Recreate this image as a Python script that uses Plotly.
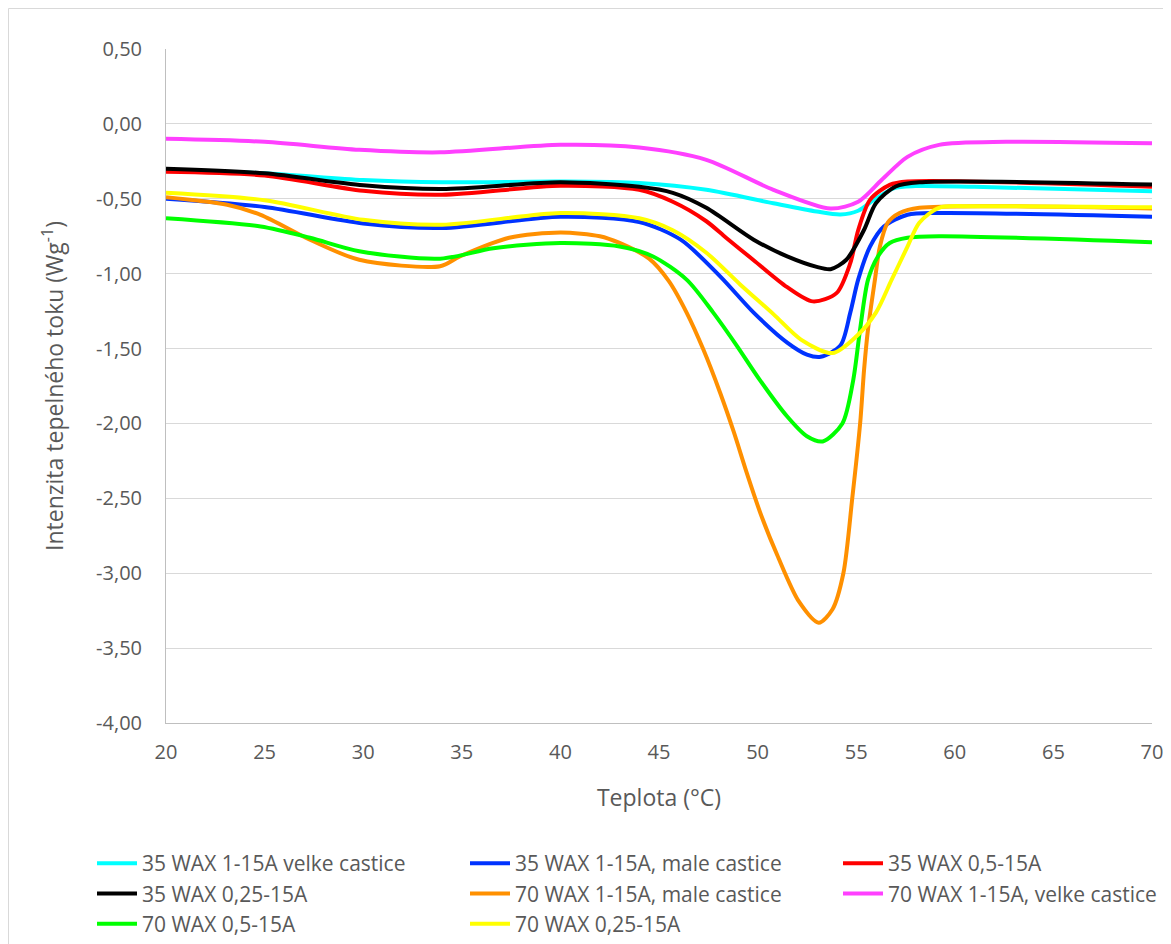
import plotly.graph_objects as go

# ---- data ----
names = [
    "35 WAX 1-15A velke castice",
    "35 WAX 1-15A, male castice",
    "35 WAX 0,5-15A",
    "35 WAX 0,25-15A",
    "70 WAX 1-15A, male castice",
    "70 WAX 1-15A, velke castice",
    "70 WAX 0,5-15A",
    "70 WAX 0,25-15A",
]
colors = ["#00FFFF", "#0033FF", "#FF0000", "#000000",
          "#FF9000", "#FF40FF", "#00FF00", "#FFFF00"]

t_cyan = [20, 25, 30, 34, 40, 44, 47.4, 50.8, 53, 54.2, 55.1, 55.9, 56.9, 58, 61, 70]
v_cyan = [-0.31, -0.33, -0.375, -0.39, -0.385, -0.395, -0.44, -0.53, -0.585, -0.605,
          -0.58, -0.507, -0.43, -0.415, -0.42, -0.45]

t_blue = [20, 25, 30, 34, 40, 44, 46.1, 48.1, 49.8, 51.5, 52.5, 53.2, 54.2, 54.7,
          55.1, 55.7, 56.4, 57.6, 59.2, 70]
v_blue = [-0.50, -0.555, -0.665, -0.695, -0.62, -0.655, -0.773, -1.018, -1.26, -1.46,
          -1.54, -1.555, -1.48, -1.26, -1.04, -0.82, -0.685, -0.607, -0.595, -0.62]

t_red = [20, 25, 30, 34, 40, 44, 45.7, 47.4, 48.4, 49.8, 51.5, 52.8, 54.0, 54.7,
         55.1, 55.7, 56.7, 57.6, 70]
v_red = [-0.32, -0.345, -0.447, -0.473, -0.413, -0.44, -0.52, -0.65, -0.76, -0.91,
         -1.09, -1.185, -1.13, -0.93, -0.71, -0.507, -0.407, -0.385, -0.42]

t_black = [20, 25, 30, 34, 40, 44, 45.7, 47.4, 49.8, 51.5, 53.0, 53.7, 54.5, 55.4,
           56.0, 57.0, 58.2, 70]
v_black = [-0.30, -0.33, -0.41, -0.435, -0.39, -0.42, -0.46, -0.56, -0.773, -0.885,
           -0.955, -0.97, -0.907, -0.707, -0.53, -0.418, -0.39, -0.405]

t_orange = [20, 23.1, 24.8, 27.3, 29.8, 33.9, 34.9, 37.4, 40, 42, 43, 44.5, 45.5,
            46.4, 47.25, 48.1, 48.8, 49.45, 50.2, 51.0, 52.1, 53.1, 53.8, 54.35,
            54.8, 55.2, 55.4, 55.6, 55.95, 56.2, 56.6, 57.2, 58.2, 70]
v_orange = [-0.49, -0.54, -0.607, -0.773, -0.907, -0.95, -0.885, -0.76, -0.725, -0.75,
            -0.795, -0.90, -1.05, -1.26, -1.507, -1.795, -2.06, -2.33, -2.62, -2.88,
            -3.19, -3.33, -3.24, -3.0, -2.5, -2.0, -1.64, -1.37, -1.04, -0.82,
            -0.66, -0.595, -0.56, -0.565]

t_magenta = [20, 25, 29.8, 33.9, 40, 44, 47.4, 50.8, 53.7, 55.1, 56.3, 57.6, 59.2,
             62.6, 70]
v_magenta = [-0.10, -0.12, -0.173, -0.19, -0.14, -0.158, -0.24, -0.44, -0.565, -0.52,
             -0.373, -0.22, -0.14, -0.12, -0.13]

t_green = [20, 24.8, 27.3, 29.8, 33.9, 36.6, 40, 43, 44.7, 46.4, 47.75, 48.94, 50.1,
           51.48, 52.5, 53.3, 54.3, 54.85, 55.2, 55.6, 56.1, 56.7, 57.6, 59.2, 70]
v_green = [-0.63, -0.685, -0.76, -0.85, -0.90, -0.83, -0.795, -0.818, -0.885, -1.04,
           -1.26, -1.48, -1.707, -1.95, -2.085, -2.12, -2.0, -1.71, -1.37, -1.04,
           -0.885, -0.795, -0.76, -0.75, -0.79]

t_yellow = [20, 25, 30, 34, 40, 44, 45.7, 47.4, 49.1, 50.8, 52.2, 53.8, 55.0, 56.0,
            56.8, 57.6, 58.2, 59.2, 61, 70]
v_yellow = [-0.46, -0.51, -0.64, -0.673, -0.595, -0.63, -0.71, -0.86, -1.07, -1.27,
            -1.44, -1.53, -1.42, -1.26, -1.04, -0.82, -0.66, -0.56, -0.55, -0.557]

x_ticks = [20, 25, 30, 35, 40, 45, 50, 55, 60, 65, 70]
y_ticks = [0.5, 0.0, -0.5, -1.0, -1.5, -2.0, -2.5, -3.0, -3.5, -4.0]
y_ticktext = ["0,50", "0,00", "-0,50", "-1,00", "-1,50", "-2,00", "-2,50",
              "-3,00", "-3,50", "-4,00"]

series = [(t_cyan, v_cyan), (t_blue, v_blue), (t_red, v_red), (t_black, v_black),
          (t_orange, v_orange), (t_magenta, v_magenta), (t_green, v_green),
          (t_yellow, v_yellow)]

fig = go.Figure()
for (t, v), name, col in zip(series, names, colors):
    fig.add_trace(go.Scatter(
        x=t, y=v, mode="lines", name=name,
        line=dict(color=col, width=4, shape="spline", smoothing=0.8),
    ))

# page has an 8px body margin; figure coordinates = screen - 8
W, H = 1163, 936
ml, mt = 158, 41
pw, ph = 986, 674
mr, mb = W - ml - pw, H - mt - ph

def px_x(p):
    return (p - ml) / pw

def px_y(p):
    return (mt + ph - p) / ph

FONT = "Open Sans, DejaVu Sans, sans-serif"
tick_font = dict(family=FONT, size=20, color="#595959")
title_font = dict(family=FONT, size=23, color="#595959")

fig.update_layout(
    width=W, height=H,
    margin=dict(l=ml, r=mr, t=mt, b=mb, autoexpand=False),
    paper_bgcolor="white", plot_bgcolor="white",
    showlegend=True,
    legend=dict(
        orientation="h", xref="paper", yref="paper",
        x=px_x(84), y=px_y(835), xanchor="left", yanchor="top",
        entrywidth=318, entrywidthmode="pixels",
        font=dict(family=FONT, size=21, color="#595959"),
        tracegroupgap=0, itemwidth=40,
    ),
    xaxis=dict(
        range=[20, 70], tickmode="array", tickvals=x_ticks,
        ticktext=[str(v) for v in x_ticks],
        showgrid=False, zeroline=False, showline=True, linecolor="#bfbfbf", linewidth=1,
        ticks="", tickfont=tick_font, ticklabelstandoff=11,
        title=dict(text="Teplota (°C)", font=title_font, standoff=25),
    ),
    yaxis=dict(
        range=[-4.0, 0.5], tickmode="array", tickvals=y_ticks, ticktext=y_ticktext,
        showgrid=True, gridcolor="#d9d9d9", gridwidth=1, zeroline=False,
        showline=True, linecolor="#bfbfbf", linewidth=1,
        ticks="", tickfont=tick_font, ticklabelstandoff=19,
        title=dict(text="Intenzita tepelného toku (Wg<sup>-1</sup>)", font=title_font, standoff=26),
    ),
    shapes=[dict(
        type="rect", xref="paper", yref="paper",
        x0=px_x(0.5), x1=px_x(W + 20), y0=px_y(H + 20), y1=px_y(0.5),
        line=dict(color="#d9d9d9", width=1), fillcolor="rgba(0,0,0,0)", layer="below",
    )],
)

fig.write_html("out.html")
